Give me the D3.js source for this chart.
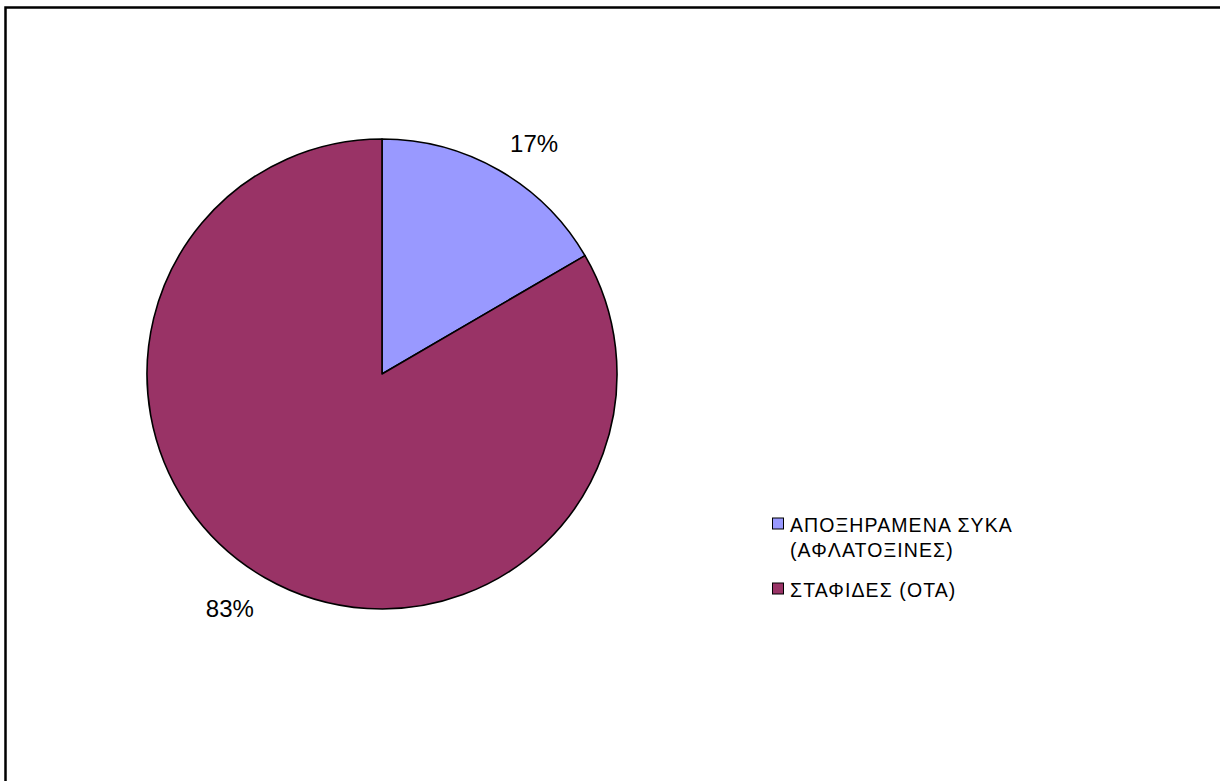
<!DOCTYPE html>
<html><head><meta charset="utf-8">
<script src="https://cdn.jsdelivr.net/npm/d3@7"></script>
<style>body{margin:0;background:#fff}svg{display:block}</style>
</head><body>
<svg id="c" width="1220" height="781"></svg>
<script>
const categories = ["ΑΠΟΞΗΡΑΜΕΝΑ ΣΥΚΑ (ΑΦΛΑΤΟΞΙΝΕΣ)", "ΣΤΑΦΙΔΕΣ (ΟΤΑ)"];
const legendLines = [["ΑΠΟΞΗΡΑΜΕΝΑ ΣΥΚΑ", "(ΑΦΛΑΤΟΞΙΝΕΣ)"], ["ΣΤΑΦΙΔΕΣ (ΟΤΑ)"]];
const values = [16.6, 83.4];
const colors = ["#9999FF", "#993366"];

const svg = d3.select("#c");
svg.append("rect").attr("x", 5.5).attr("y", 7.5).attr("width", 1240).attr("height", 800)
  .attr("fill", "#fff").attr("stroke", "#000").attr("stroke-width", 2.5);

const cx = 382, cy = 374, R = 235;
const pie = d3.pie().sort(null).value(d => d)(values);
const arc = d3.arc().innerRadius(0).outerRadius(R);
const g = svg.append("g").attr("transform", `translate(${cx},${cy})`);
g.selectAll("path").data(pie).join("path")
  .attr("d", arc).attr("fill", (d, i) => colors[i])
  .attr("stroke", "#000").attr("stroke-width", 1.6).attr("stroke-linejoin", "round");

const total = d3.sum(values);
const fmt = v => Math.round(v / total * 100) + "%";
const off = 3.3 * Math.PI / 180, LR = 278;
g.selectAll("text.lbl").data(pie).join("text").attr("class", "lbl")
  .attr("x", d => LR * Math.sin((d.startAngle + d.endAngle) / 2 + off))
  .attr("y", d => -LR * Math.cos((d.startAngle + d.endAngle) / 2 + off) + 2)
  .attr("text-anchor", "middle").attr("dominant-baseline", "central")
  .attr("font-family", "Liberation Sans, Arial, sans-serif").attr("font-size", 24)
  .text(d => fmt(d.value));

const leg = svg.append("g").attr("font-family", "Liberation Sans, Arial, sans-serif")
  .attr("font-size", 19.5).attr("letter-spacing", 1.1);
const rowY = [531.5, 596.5];
categories.forEach((c, i) => {
  leg.append("rect").attr("x", 772.5).attr("y", rowY[i] - 13.5).attr("width", 11).attr("height", 11)
    .attr("fill", colors[i]).attr("stroke", "#000").attr("stroke-width", 1);
  legendLines[i].forEach((t, j) => {
    leg.append("text").attr("x", 790).attr("y", rowY[i] + j * 25.5).text(t);
  });
});
</script>
</body></html>
